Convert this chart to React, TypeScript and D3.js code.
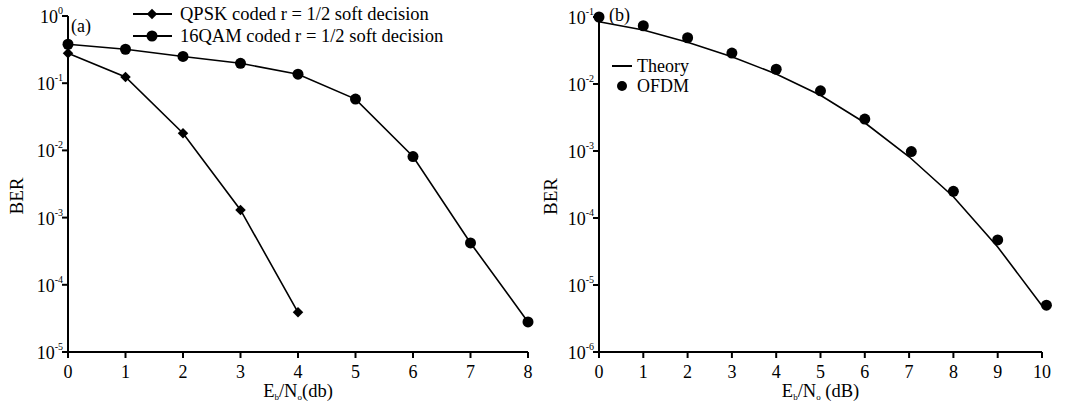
import React, { useEffect, useRef } from "react";
import * as d3 from "d3";

// panel (a)
const snrA = [0, 1, 2, 3, 4, 5, 6, 7, 8];
const qpskBer = [0.28, 0.124, 0.018, 0.0013, 0.000039];
const qamBer = [0.38, 0.32, 0.25, 0.198, 0.136, 0.058, 0.0081, 0.00042, 0.000028];
const expA = [0, -1, -2, -3, -4, -5];

// panel (b)
const snrB = [0, 1, 2, 3, 4, 5, 6, 7, 8, 9, 10];
const theoryBer = [0.085, 0.064, 0.042, 0.0255, 0.0141, 0.0068, 0.00264, 0.00082, 0.000208, 0.000037, 0.0000049];
const ofdmSnr = [0, 1, 2, 3, 4, 5, 6, 7.05, 8, 9, 10.1];
const ofdmBer = [0.1, 0.074, 0.049, 0.029, 0.0166, 0.0079, 0.003, 0.00098, 0.00025, 0.000047, 0.000005];
const expB = [-1, -2, -3, -4, -5, -6];

const FONT = "'Liberation Serif', 'Times New Roman', serif";

const App: React.FC = () => {
	const ref = useRef<SVGSVGElement>(null);

	useEffect(() => {
		const svg = d3.select(ref.current);
		svg.selectAll("*").remove();
		svg.style("font-family", FONT);

		const drawAxes = (
			x: d3.ScaleLinear<number, number>,
			y: d3.ScaleLogarithmic<number, number>,
			xTicks: number[],
			exps: number[],
			xLabelUnit: string,
			berX: number
		) => {
			const [x0, x1] = x.range();
			const [yb, yt] = y.range();
			const g = svg.append("g");
			g.append("line").attr("x1", x0).attr("x2", x0).attr("y1", yt).attr("y2", yb + 1)
				.attr("stroke", "#000").attr("stroke-width", 2);
			g.append("line").attr("x1", x0 - 1).attr("x2", x1).attr("y1", yb).attr("y2", yb)
				.attr("stroke", "#000").attr("stroke-width", 2);

			xTicks.forEach((t) => {
				g.append("line").attr("x1", x(t)).attr("x2", x(t)).attr("y1", yb).attr("y2", yb + 6)
					.attr("stroke", "#000").attr("stroke-width", 2);
				g.append("text").attr("x", x(t)).attr("y", yb + 26).attr("text-anchor", "middle")
					.attr("font-size", 18).text(t);
			});

			exps.forEach((e) => {
				const yy = y(Math.pow(10, e));
				g.append("line").attr("x1", x0 - 6).attr("x2", x0).attr("y1", yy).attr("y2", yy)
					.attr("stroke", "#000").attr("stroke-width", 2);
				const t = g.append("text").attr("x", x0 - 5).attr("y", yy + 7).attr("text-anchor", "end")
					.attr("font-size", 18);
				t.append("tspan").text("10");
				t.append("tspan").attr("dy", -9).attr("font-size", 10).text(e);
			});

			const cx = (x0 + x1) / 2;
			const xl = g.append("text").attr("x", cx).attr("y", yb + 45).attr("text-anchor", "middle")
				.attr("font-size", 18.5);
			xl.append("tspan").text("E");
			xl.append("tspan").attr("dy", 3).attr("font-size", 9).text("b");
			xl.append("tspan").attr("dy", -3).text("/N");
			xl.append("tspan").attr("dy", 3).attr("font-size", 9).text("o");
			xl.append("tspan").attr("dy", -3).text(xLabelUnit);

			g.append("text").attr("transform", `translate(${berX},${(yt + yb) / 2 + 12}) rotate(-90)`)
				.attr("text-anchor", "middle").attr("font-size", 19).text("BER");
		};

		// ---------- (a)
		const xA = d3.scaleLinear().domain([0, 8]).range([68, 528]);
		const yA = d3.scaleLog().domain([1e-5, 1]).range([352, 16]);
		drawAxes(xA, yA, snrA, expA, "(db)", 23);

		const lineA = d3.line<[number, number]>().x((d) => xA(d[0])).y((d) => yA(d[1]));
		const qpsk = qpskBer.map((v, i) => [snrA[i], v] as [number, number]);
		const qam = qamBer.map((v, i) => [snrA[i], v] as [number, number]);
		[qpsk, qam].forEach((s) =>
			svg.append("path").attr("d", lineA(s)).attr("fill", "none").attr("stroke", "#000").attr("stroke-width", 1.6)
		);
		const diamond = d3.symbol().type(d3.symbolDiamond2).size(70);
		svg.selectAll("path.qpsk").data(qpsk).enter().append("path").attr("class", "qpsk")
			.attr("d", diamond()).attr("transform", (d) => `translate(${xA(d[0])},${yA(d[1])})`).attr("fill", "#000");
		svg.selectAll("circle.qam").data(qam).enter().append("circle").attr("class", "qam")
			.attr("cx", (d) => xA(d[0])).attr("cy", (d) => yA(d[1])).attr("r", 5.5).attr("fill", "#000");

		svg.append("text").attr("x", 71).attr("y", 32).attr("font-size", 18).text("(a)");

		// legend (a)
		const legA = svg.append("g");
		[
			{ y: 14, label: "QPSK coded r = 1/2 soft decision", kind: "diamond" },
			{ y: 36, label: "16QAM coded r = 1/2 soft decision", kind: "circle" },
		].forEach((it) => {
			legA.append("line").attr("x1", 133).attr("x2", 172).attr("y1", it.y).attr("y2", it.y)
				.attr("stroke", "#000").attr("stroke-width", 2);
			if (it.kind === "diamond")
				legA.append("path").attr("d", diamond()).attr("transform", `translate(152,${it.y})`).attr("fill", "#000");
			else legA.append("circle").attr("cx", 152).attr("cy", it.y).attr("r", 5.5).attr("fill", "#000");
			legA.append("text").attr("x", 180).attr("y", it.y + 6).attr("font-size", 18.5).text(it.label);
		});

		// ---------- (b)
		const xB = d3.scaleLinear().domain([0, 10]).range([599, 1042]);
		const yB = d3.scaleLog().domain([1e-6, 1e-1]).range([352, 17]);
		drawAxes(xB, yB, snrB, expB, " (dB)", 557);

		const lineB = d3.line<number>().x((_, i) => xB(snrB[i])).y((d) => yB(d));
		svg.append("path").attr("d", lineB(theoryBer)).attr("fill", "none").attr("stroke", "#000").attr("stroke-width", 1.6);
		svg.selectAll("circle.ofdm").data(ofdmBer).enter().append("circle").attr("class", "ofdm")
			.attr("cx", (_, i) => xB(ofdmSnr[i])).attr("cy", (d) => yB(d)).attr("r", 5.5).attr("fill", "#000");

		svg.append("text").attr("x", 609).attr("y", 21).attr("font-size", 18).text("(b)");

		const legB = svg.append("g");
		legB.append("line").attr("x1", 612).attr("x2", 632).attr("y1", 66).attr("y2", 66)
			.attr("stroke", "#000").attr("stroke-width", 2);
		legB.append("text").attr("x", 637).attr("y", 72).attr("font-size", 18).text("Theory");
		legB.append("circle").attr("cx", 622).attr("cy", 86).attr("r", 5).attr("fill", "#000");
		legB.append("text").attr("x", 637).attr("y", 92).attr("font-size", 18).text("OFDM");
	}, []);

	return (
		<svg
			ref={ref}
			width={1075}
			height={409}
			style={{ position: "absolute", left: 0, top: 0, background: "#fff" }}
		/>
	);
};

export default App;
